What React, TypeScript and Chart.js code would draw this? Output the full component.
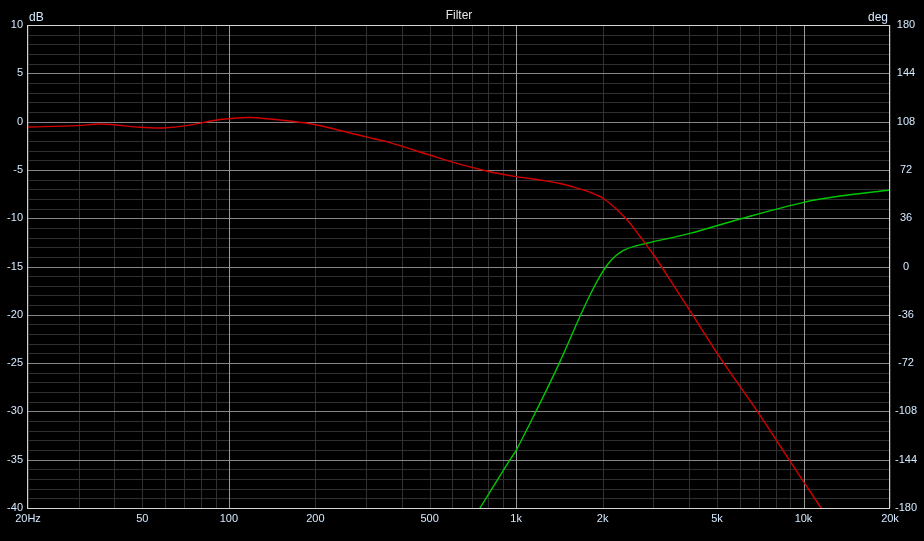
import { useEffect, useRef } from 'react';
import { Chart, registerables } from 'chart.js';

Chart.register(...registerables);

// Magnitude response (dB)
const magFreq = [20, 29.5, 35.6, 39.6, 49, 59, 71.3, 90.7, 100, 118.5, 159, 200, 298, 354, 500, 604, 790, 1000, 1211, 1421, 1667, 1836, 2000, 2172, 2434, 2698, 2983, 3385, 4028, 5194, 6871, 8904, 11507, 12500];
const magDb = [-0.56, -0.42, -0.25, -0.32, -0.59, -0.66, -0.42, 0.17, 0.3, 0.42, 0.09, -0.32, -1.56, -2.08, -3.46, -4.22, -5.11, -5.7, -6.05, -6.41, -6.98, -7.39, -7.91, -8.74, -10.19, -11.89, -13.63, -16.1, -19.6, -24.7, -29.9, -35, -40, -41.6];

// Phase response (deg)
const phaseFreq = [748, 952, 1000, 1172, 1413, 1677, 1807, 1958, 2088, 2226, 2374, 2571, 2846, 4028, 6013, 10000, 13396, 20000];
const phaseDeg = [-180, -144, -137, -108, -72, -36, -21.2, -7.1, 1.9, 8.2, 12.2, 15, 17.3, 24.7, 35.4, 47.8, 52.5, 57];

const xGridValues = [20, 30, 40, 50, 60, 70, 80, 90, 100, 200, 300, 400, 500, 600, 700, 800, 900, 1000, 2000, 3000, 4000, 5000, 6000, 7000, 8000, 9000, 10000, 20000];
const xMajor = [100, 1000, 10000];
const xLabelValues = [20, 50, 100, 200, 500, 1000, 2000, 5000, 10000, 20000];
const xLabelTexts = ['20Hz', '50', '100', '200', '500', '1k', '2k', '5k', '10k', '20k'];

const dbMin = -40;
const dbMax = 10;
const degTicks = [-180, -144, -108, -72, -36, 0, 36, 72, 108, 144, 180];

const TICK_COLOR = '#d6eaff';
const FONT = "'Liberation Sans', Arial, sans-serif";
const MINOR = '#303030';
const MAJOR = '#858585';

export default function App() {
  const canvasRef = useRef<HTMLCanvasElement | null>(null);

  useEffect(() => {
    document.body.style.margin = '0';
    document.body.style.background = '#000';
    const canvas = canvasRef.current;
    if (!canvas) return;

    const dbTickValues: number[] = [];
    for (let v = dbMin; v <= dbMax; v += 1) dbTickValues.push(v);

    const overlay = {
      id: 'overlay',
      beforeDraw(chart: any) {
        const ctx = chart.ctx;
        ctx.save();
        ctx.fillStyle = '#000';
        ctx.fillRect(0, 0, chart.width, chart.height);
        ctx.restore();
      },
      beforeDatasetsDraw(chart: any) {
        const ctx = chart.ctx;
        const { left, top, right, bottom } = chart.chartArea;
        const xs = chart.scales.x;
        const ys = chart.scales.y;
        const line = (x1: number, y1: number, x2: number, y2: number) => {
          ctx.beginPath();
          ctx.moveTo(x1, y1);
          ctx.lineTo(x2, y2);
          ctx.stroke();
        };
        ctx.save();
        ctx.lineWidth = 1;
        ctx.strokeStyle = MINOR;
        dbTickValues.forEach((v) => {
          if (v % 5 !== 0) {
            const y = Math.round(ys.getPixelForValue(v)) + 0.5;
            line(left, y, right, y);
          }
        });
        xGridValues.forEach((v) => {
          if (!xMajor.includes(v)) {
            const x = Math.round(xs.getPixelForValue(v)) + 0.5;
            line(x, top, x, bottom);
          }
        });
        ctx.strokeStyle = MAJOR;
        dbTickValues.forEach((v) => {
          if (v % 5 === 0) {
            const y = Math.round(ys.getPixelForValue(v)) + 0.5;
            line(left, y, right, y);
          }
        });
        ctx.strokeStyle = '#9a9a9a';
        xMajor.forEach((v) => {
          const x = Math.round(xs.getPixelForValue(v)) + 0.5;
          line(x, top, x, bottom);
        });
        ctx.restore();
      },
      afterDraw(chart: any) {
        const ctx = chart.ctx;
        const { left, top, right, bottom } = chart.chartArea;
        ctx.save();
        ctx.strokeStyle = '#d4d4d4';
        ctx.lineWidth = 1;
        ctx.strokeRect(Math.round(left) - 0.5, Math.round(top) + 0.5, Math.round(right - left), Math.round(bottom - top));
        ctx.font = `12px ${FONT}`;
        ctx.fillStyle = '#e8e8e8';
        ctx.textAlign = 'center';
        ctx.textBaseline = 'alphabetic';
        ctx.fillText('Filter', (left + right) / 2, 19);
        ctx.fillStyle = TICK_COLOR;
        ctx.textAlign = 'left';
        ctx.fillText('dB', left + 1, 21);
        ctx.textAlign = 'right';
        ctx.fillText('deg', right - 2, 21);
        ctx.restore();
      },
    };

    const chart = new Chart(canvas, {
      type: 'line',
      data: {
        datasets: [
          {
            label: 'Magnitude',
            data: magFreq.map((f, i) => ({ x: f, y: magDb[i] })),
            borderColor: '#d40000',
            borderWidth: 1.4,
            pointRadius: 0,
            tension: 0.35,
            yAxisID: 'y',
          },
          {
            label: 'Phase',
            data: phaseFreq.map((f, i) => ({ x: f, y: phaseDeg[i] })),
            borderColor: '#00c800',
            borderWidth: 1.4,
            pointRadius: 0,
            tension: 0.35,
            yAxisID: 'y2',
          },
        ],
      },
      options: {
        responsive: false,
        animation: false,
        devicePixelRatio: 1,
        layout: { padding: { top: 25, left: 0, right: 0, bottom: 0 } },
        plugins: {
          legend: { display: false },
          title: { display: false },
          tooltip: { enabled: false },
        },
        scales: {
          x: {
            type: 'logarithmic',
            min: 20,
            max: 20000,
            afterBuildTicks: (s: any) => {
              s.ticks = xGridValues.map((v) => ({ value: v }));
            },
            afterFit: (s: any) => {
              s.height = 33;
            },
            ticks: {
              autoSkip: false,
              maxRotation: 0,
              minRotation: 0,
              padding: 4,
              color: TICK_COLOR,
              font: { family: FONT, size: 11 },
              callback: (v: any) => {
                const idx = xLabelValues.indexOf(Number(v));
                return idx >= 0 ? xLabelTexts[idx] : '';
              },
            },
            grid: { display: false, drawTicks: false },
            border: { display: false },
          },
          y: {
            position: 'left',
            min: dbMin,
            max: dbMax,
            afterBuildTicks: (s: any) => {
              s.ticks = dbTickValues.map((v) => ({ value: v }));
            },
            afterFit: (s: any) => {
              s.width = 28;
            },
            ticks: {
              autoSkip: false,
              padding: 5,
              color: TICK_COLOR,
              font: { family: FONT, size: 11 },
              callback: (v: any) => (Number(v) % 5 === 0 ? String(v) : ''),
            },
            grid: { display: false, drawTicks: false },
            border: { display: false },
          },
          y2: {
            position: 'right',
            min: -180,
            max: 180,
            afterBuildTicks: (s: any) => {
              s.ticks = degTicks.map((v) => ({ value: v }));
            },
            afterFit: (s: any) => {
              s.width = 34;
            },
            ticks: {
              autoSkip: false,
              padding: 5,
              crossAlign: 'center',
              color: TICK_COLOR,
              font: { family: FONT, size: 11 },
              callback: (v: any) => String(v),
            },
            grid: { display: false, drawTicks: false },
            border: { display: false },
          },
        },
      } as any,
      plugins: [overlay],
    });

    return () => chart.destroy();
  }, []);

  return (
    <div style={{ width: 924, height: 541, background: '#000' }}>
      <canvas ref={canvasRef} width={924} height={541} style={{ display: 'block' }} />
    </div>
  );
}
